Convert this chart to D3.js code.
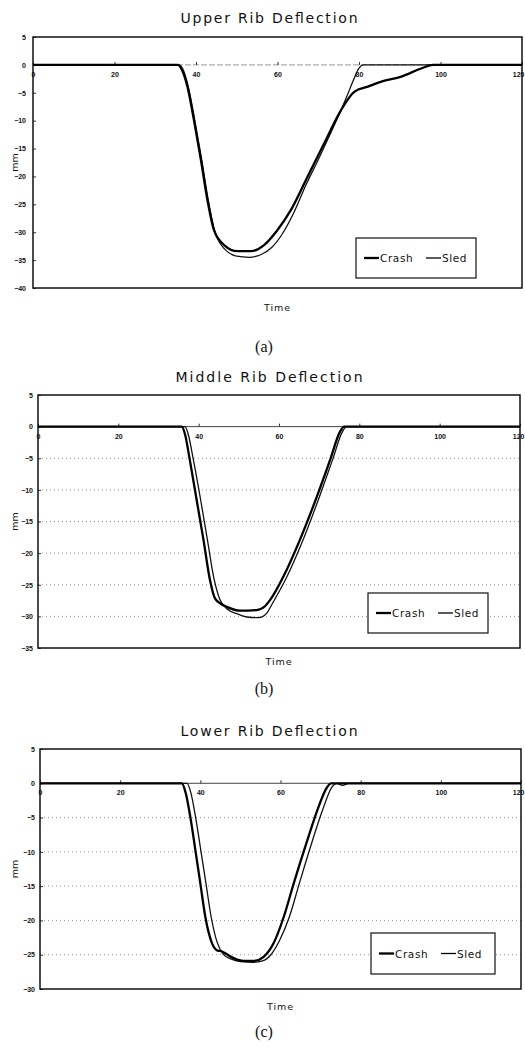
<!DOCTYPE html>
<html>
<head>
<meta charset="utf-8">
<script src="https://cdn.jsdelivr.net/npm/d3@7"></script>
<style>
  body { margin: 0; background: #fff; }
  svg { display: block; }
  .tick text { font-family: "Liberation Sans", Arial, sans-serif; font-size: 7px; font-weight: bold; fill: #111; }
  .title { font-family: "DejaVu Sans", sans-serif; font-size: 14px; fill: #111; }
  .axlab { font-family: "DejaVu Sans", sans-serif; font-size: 9.5px; fill: #111; }
  .leg_text { font-family: "DejaVu Sans", sans-serif; font-size: 10.5px; fill: #111; }
  .panel { font-family: "Liberation Serif", "Times New Roman", serif; font-size: 16px; fill: #111; }
</style>
</head>
<body>
<div class="viz"></div>
<script>
// tick labels
const xTicks = [0, 20, 40, 60, 80, 100, 120];
const seriesNames = ["Crash", "Sled"];
const titles = ["Upper Rib Deflection", "Middle Rib Deflection", "Lower Rib Deflection"];
const panelLabels = ["(a)", "(b)", "(c)"];

// (a) upper rib
const upperCrashT = [0, 35.5, 36.5, 37.9, 39.5, 41.2, 42.8, 44.4, 46.9, 50.2, 53.5, 56.7, 60, 63.3, 67.4, 71.5, 75.6, 78.9, 82.2, 85.5, 90.4, 95.4, 98.2, 120];
const upperCrash  = [0, 0, -0.8, -3.9, -9.9, -17, -24.2, -29.6, -32.3, -33.4, -33.4, -32.3, -29.6, -26, -20, -14, -8.1, -4.8, -3.9, -3.0, -2.1, -0.6, 0, 0];
const upperSledT  = [0, 35.8, 36.8, 38.1, 39.7, 41.4, 43, 44.6, 47, 50, 53, 56, 58.5, 61, 64, 67, 70, 73, 75.6, 77.2, 78.6, 80, 81, 120];
const upperSled   = [0, 0, -0.8, -3.9, -9.9, -17, -24.2, -29.8, -33, -34.3, -34.5, -34, -32.8, -30.5, -26.5, -21.5, -17, -12.3, -8.1, -5.3, -2.8, -0.6, 0, 0];

// (b) middle rib
const middleCrashT = [0, 35.8, 36.6, 37.8, 39.5, 41.2, 42.8, 44.1, 45.5, 47, 50.3, 54.4, 56.5, 57.8, 61.1, 65.2, 69.4, 72.7, 75.2, 76.2, 120];
const middleCrash  = [0, 0, -1.2, -5.3, -11.6, -17.9, -24.2, -27.2, -28, -28.5, -29.1, -29, -28.4, -27.4, -23.7, -17.9, -11.1, -5.3, -0.8, 0, 0];
const middleSledT  = [0, 36.6, 37.4, 38.7, 40.5, 42.2, 43.8, 45.2, 47, 50, 52, 55, 56.8, 58.5, 62, 66, 70, 73.3, 75.8, 76.8, 120];
const middleSled   = [0, 0, -1.2, -5.3, -11.6, -18, -24, -27.2, -28.8, -29.7, -30.1, -30.2, -29.6, -27.8, -23.7, -17.9, -11.2, -5.3, -0.8, 0, 0];

// (c) lower rib
const lowerCrashT = [0, 35.4, 36.3, 37.5, 38.75, 40, 41.25, 42.9, 44.3, 45.3, 46.5, 48.3, 50.8, 53.3, 55.8, 58.3, 60.8, 63.3, 66.7, 69.2, 71.7, 72.6, 120];
const lowerCrash  = [0, 0, -1.3, -4.9, -9.7, -14.6, -19.5, -23.3, -24.4, -24.5, -24.9, -25.5, -25.9, -25.9, -25.3, -23.3, -19.5, -14.6, -8.3, -3.9, -0.5, 0, 0];
const lowerSledT  = [0, 36.7, 37.6, 38.8, 40.1, 41.4, 42.7, 44.2, 45.7, 47.6, 50, 53, 55.5, 57.6, 59.7, 62.2, 64.7, 68, 70.5, 72.9, 74, 75.5, 77, 120];
const lowerSled   = [0, 0, -1.3, -4.9, -9.7, -14.6, -19.5, -23.2, -24.9, -25.6, -26, -26.1, -25.9, -25, -23, -19.5, -14.6, -8.3, -3.9, -0.5, 0, -0.3, 0, 0];

const yDomains = [[-40, 5], [-35, 5], [-30, 5]];

const zip = (t, v) => t.map((d, i) => ({ t: d, v: v[i] }));

// layout of the three stacked panels
const panels = [
  { left: 33, right: 522, top: 37,  bottom: 288, titleY: 23,  timeY: 311, labelY: 352, grid: false,
    legend: { x: 356, y: 238, w: 120, h: 40 },
    crash: zip(upperCrashT, upperCrash), sled: zip(upperSledT, upperSled) },
  { left: 38, right: 520, top: 395, bottom: 648, titleY: 382, timeY: 665, labelY: 694, grid: true,
    legend: { x: 368, y: 593, w: 120, h: 40 },
    crash: zip(middleCrashT, middleCrash), sled: zip(middleSledT, middleSled) },
  { left: 40, right: 521, top: 749, bottom: 989, titleY: 736, timeY: 1010, labelY: 1037, grid: true,
    legend: { x: 371, y: 933, w: 124, h: 41 },
    crash: zip(lowerCrashT, lowerCrash), sled: zip(lowerSledT, lowerSled) }
];

const svg = d3.select(".viz")
  .append("svg")
  .attr("width", 525)
  .attr("height", 1052);

panels.forEach(function(p, k) {
  const x = d3.scaleLinear().domain([0, 120]).range([p.left, p.right]);
  const y = d3.scaleLinear().domain(yDomains[k]).range([p.bottom, p.top]);
  const g = svg.append("g");

  // title
  g.append("text")
    .attr("class", "title")
    .attr("x", 269)
    .attr("y", p.titleY)
    .attr("text-anchor", "middle")
    .attr("textLength", k == 1 ? 187 : 177)
    .attr("lengthAdjust", "spacing")
    .text(titles[k]);

  // dotted gridlines
  if (p.grid) {
    const gv = d3.range(yDomains[k][0] + 5, 0, 5);
    g.selectAll(null)
      .data(gv)
      .enter()
      .append("line")
      .attr("x1", p.left)
      .attr("x2", p.right)
      .attr("y1", d => y(d))
      .attr("y2", d => y(d))
      .attr("stroke", "#777")
      .attr("stroke-width", 0.8)
      .attr("stroke-dasharray", "1,3");
  }

  // y axis
  const yAxis = g.append("g")
    .attr("transform", `translate(${p.left},0)`)
    .call(d3.axisLeft(y).tickValues(d3.range(yDomains[k][0], 6, 5)).tickSize(-3).tickPadding(k == 0 ? 7 : 5));
  yAxis.select(".domain").remove();
  yAxis.selectAll(".tick line").attr("stroke", "#333");

  // zero line + x axis
  g.append("line")
    .attr("x1", p.left).attr("x2", p.right)
    .attr("y1", y(0)).attr("y2", y(0))
    .attr("stroke", k == 0 ? "#999" : "#444")
    .attr("stroke-width", 1)
    .attr("stroke-dasharray", k == 0 ? "6,2" : null);

  const xAxis = g.append("g")
    .attr("transform", `translate(0,${y(0)})`)
    .call(d3.axisBottom(x).tickValues(xTicks).tickSize(-3).tickPadding(7));
  xAxis.select(".domain").remove();
  xAxis.selectAll(".tick line").attr("stroke", "#333");
  // keep the last label inside the window
  xAxis.selectAll(".tick text")
    .filter(d => d == 120)
    .attr("text-anchor", "end")
    .attr("x", 524 - p.right);

  // plot border
  g.append("rect")
    .attr("x", p.left)
    .attr("y", p.top)
    .attr("width", p.right - p.left)
    .attr("height", p.bottom - p.top)
    .attr("fill", "none")
    .attr("stroke", "#111")
    .attr("stroke-width", 1.5);

  // curves
  const line = d3.line()
    .x(d => x(d.t))
    .y(d => y(d.v))
    .curve(d3.curveMonotoneX);

  g.append("path")
    .datum(p.sled)
    .attr("d", line)
    .attr("fill", "none")
    .attr("stroke", "#111")
    .attr("stroke-width", 1.3);

  g.append("path")
    .datum(p.crash)
    .attr("d", line)
    .attr("fill", "none")
    .attr("stroke", "#000")
    .attr("stroke-width", 2.3);

  // axis labels
  g.append("text")
    .attr("class", "axlab")
    .attr("transform", `translate(18,${(p.top + p.bottom) / 2}) rotate(-90)`)
    .attr("text-anchor", "middle")
    .text("mm");

  g.append("text")
    .attr("class", "axlab")
    .attr("x", (p.left + p.right) / 2)
    .attr("y", p.timeY)
    .attr("text-anchor", "middle")
    .attr("letter-spacing", 1)
    .text("Time");

  // legend
  const L = p.legend;
  g.append("rect")
    .attr("x", L.x).attr("y", L.y)
    .attr("width", L.w).attr("height", L.h)
    .attr("fill", "#fff")
    .attr("stroke", "#111")
    .attr("stroke-width", 1.2);

  const cy = L.y + L.h / 2;
  [0, 1].forEach(function(i) {
    const lx = L.x + 8 + i * 62;
    g.append("line")
      .attr("x1", lx).attr("x2", lx + 15)
      .attr("y1", cy).attr("y2", cy)
      .attr("stroke", "#000")
      .attr("stroke-width", i == 0 ? 2.3 : 1.3);
    g.append("text")
      .attr("class", "leg_text")
      .attr("x", lx + 16)
      .attr("y", cy + 4)
      .attr("letter-spacing", 0.6)
      .text(seriesNames[i]);
  });

  // panel label
  svg.append("text")
    .attr("class", "panel")
    .attr("x", 264)
    .attr("y", p.labelY)
    .attr("text-anchor", "middle")
    .text(panelLabels[k]);
});
</script>
</body>
</html>
